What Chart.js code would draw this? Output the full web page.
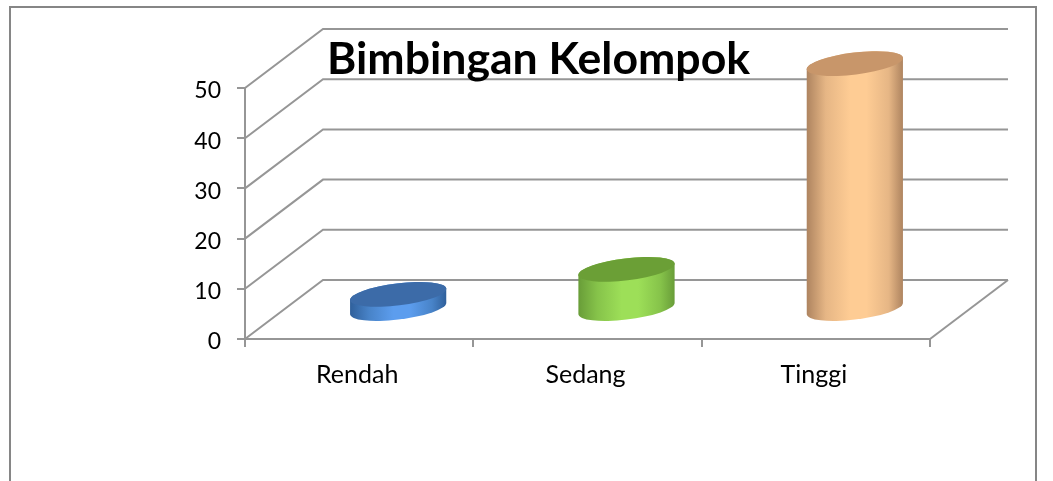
<!DOCTYPE html>
<html>
<head>
<meta charset="utf-8">
<title>Bimbingan Kelompok</title>
<script src="https://cdn.jsdelivr.net/npm/chart.js@4/dist/chart.umd.js"></script>
<style>
    html, body { margin: 0; padding: 0; background: #fff; overflow: hidden; width: 1053px; height: 481px; }
    #frame { position: absolute; left: 9px; top: 6px; width: 1028px; height: 520px; border: 2px solid #868686; box-sizing: border-box; }
    #chart { position: absolute; left: 0; top: 0; }
</style>
</head>
<body>
<div id="frame"></div>
<canvas id="chart" width="1053" height="481"></canvas>
<script>
// data
const categories = ['Rendah', 'Sedang', 'Tinggi'];
const values = [3, 8, 49];
const chartTitle = 'Bimbingan Kelompok';

// 3D look
const depthX = 78;
const depthY = 59;
const lineColor = '#969696';
const cylinderColors = [
    { top: '#3c6ba8', edge: '#2f5f9a', side: '#4883c8', mid: '#5c9dee' },
    { top: '#6b9f36', edge: '#689c38', side: '#86c34a', mid: '#9ddf58' },
    { top: '#c8966a', edge: '#ad835f', side: '#e6b685', mid: '#fecc94' }
];

// walls and floor, drawn behind everything
const wallsPlugin = {
    id: 'walls',
    beforeDraw(chart) {
        const { ctx, scales: { x, y } } = chart;
        ctx.save();
        ctx.strokeStyle = lineColor;
        ctx.lineWidth = 2;
        y.ticks.forEach(t => {
            const py = y.getPixelForValue(t.value);
            ctx.beginPath();
            ctx.moveTo(x.left, py);
            ctx.lineTo(x.left + depthX, py - depthY);
            ctx.lineTo(x.right + depthX, py - depthY);
            ctx.stroke();
        });
        const py0 = y.getPixelForValue(0);
        ctx.beginPath();
        ctx.moveTo(x.right, py0);
        ctx.lineTo(x.right + depthX, py0 - depthY);
        ctx.stroke();
        ctx.restore();
    }
};

// bars are replaced by tilted cylinders
const cylinderPlugin = {
    id: 'cylinder',
    beforeDatasetDraw(chart, args) {
        const ctx = chart.ctx;
        const rot = -7 * Math.PI / 180;
        args.meta.data.forEach((bar, i) => {
            const c = cylinderColors[i];
            const cx = bar.x + depthX / 2;
            const topY = bar.y - depthY / 2;
            const baseY = bar.base - depthY / 2;
            const a = bar.width / 2 + 0.5;
            const b = 11;
            const t0 = Math.atan(-(b / a) * Math.tan(rot));

            const grad = ctx.createLinearGradient(cx - a, 0, cx + a, 0);
            grad.addColorStop(0, c.edge);
            grad.addColorStop(0.2, c.side);
            grad.addColorStop(0.45, c.mid);
            grad.addColorStop(0.62, c.mid);
            grad.addColorStop(0.85, c.side);
            grad.addColorStop(1, c.edge);

            ctx.save();
            ctx.beginPath();
            ctx.ellipse(cx, baseY, a, b, rot, t0, t0 + Math.PI, false);
            ctx.ellipse(cx, topY, a, b, rot, t0 + Math.PI, t0 + 2 * Math.PI, false);
            ctx.closePath();
            ctx.fillStyle = grad;
            ctx.fill();

            ctx.beginPath();
            ctx.ellipse(cx, topY, a, b, rot, 0, 2 * Math.PI);
            ctx.fillStyle = c.top;
            ctx.fill();
            ctx.restore();
        });
        return false;
    }
};

// title sits left of the plot centre, tick labels get a small nudge
const placementPlugin = {
    id: 'placement',
    afterLayout(chart) {
        chart.titleBlock.left = 327;
    },
    beforeDraw(chart) {
        chart.scales.y.getLabelItems().forEach(item => { item.textOffset += 3; });
        chart.scales.x.getLabelItems().forEach(item => { item.options.translation[0] -= 2; });
    }
};

new Chart(document.getElementById('chart'), {
    type: 'bar',
    data: {
        labels: categories,
        datasets: [{
            data: values,
            backgroundColor: cylinderColors.map(c => c.mid),
            borderWidth: 0,
            categoryPercentage: 1,
            barPercentage: 0.42
        }]
    },
    plugins: [wallsPlugin, cylinderPlugin, placementPlugin],
    options: {
        responsive: false,
        animation: false,
        layout: { padding: { left: 0, right: 123, top: 0, bottom: 0 } },
        plugins: {
            legend: { display: false },
            tooltip: { enabled: false },
            title: {
                display: true,
                text: chartTitle,
                align: 'start',
                color: '#000',
                font: { family: 'Lato', size: 44.6, weight: 'bold' },
                padding: { top: 32.5, bottom: 2 }
            }
        },
        scales: {
            x: {
                grid: { drawOnChartArea: false, color: lineColor, lineWidth: 2, tickLength: 8 },
                border: { color: lineColor, width: 2 },
                ticks: { color: '#000', font: { family: 'Lato', size: 25 }, padding: 13 },
                afterFit(scale) { scale.height = 142; }
            },
            y: {
                min: 0,
                max: 50,
                grid: { drawOnChartArea: false, color: lineColor, lineWidth: 2, tickLength: 8 },
                border: { color: lineColor, width: 2 },
                ticks: { color: '#000', stepSize: 10, font: { family: 'Lato', size: 23 }, padding: 16 },
                afterFit(scale) { scale.width = 245; }
            }
        }
    }
});
</script>
</body>
</html>
